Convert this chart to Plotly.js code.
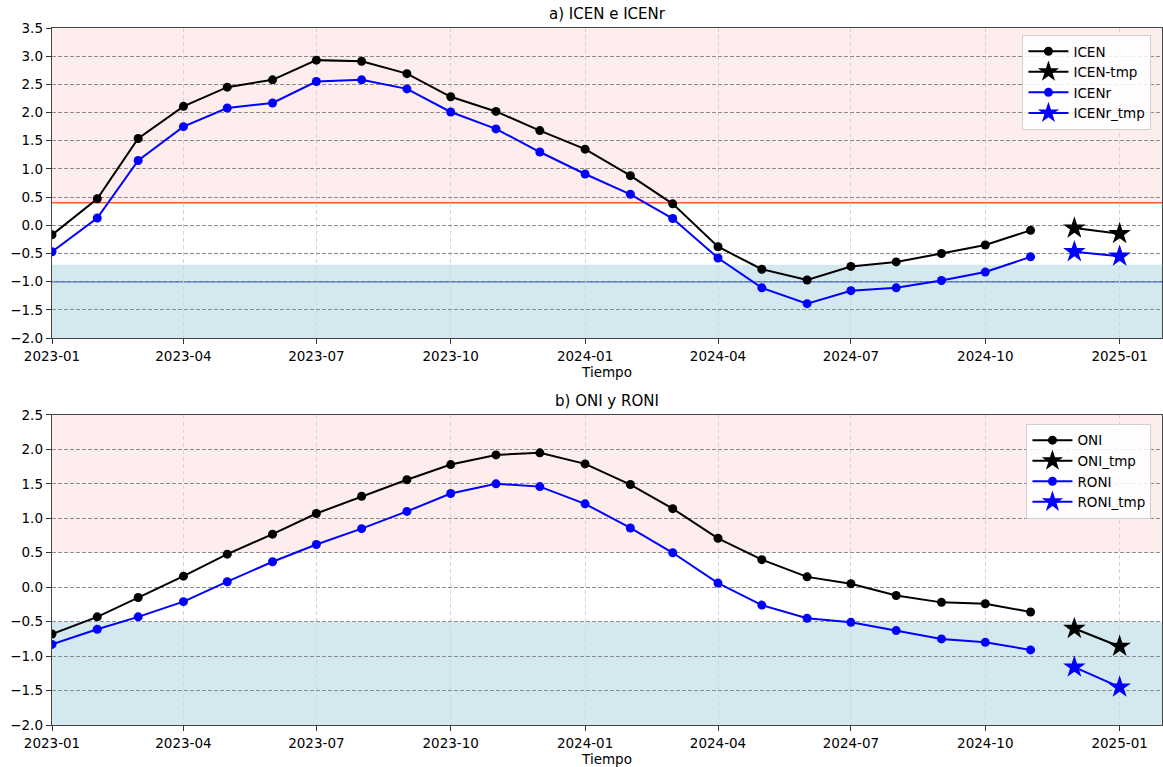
<!DOCTYPE html>
<html>
<head>
<meta charset="utf-8">
<script src="https://cdn.plot.ly/plotly-3.0.1.min.js"></script>
<style>
  html, body { margin: 0; padding: 0; background: #ffffff; }
  #chart { width: 1163px; height: 767px; }
</style>
</head>
<body>
<div id="chart"></div>
<script>
// Monthly dates of the observed indices and of the provisional (tmp) values
const months = [
  '2023-01-01','2023-02-01','2023-03-01','2023-04-01','2023-05-01','2023-06-01',
  '2023-07-01','2023-08-01','2023-09-01','2023-10-01','2023-11-01','2023-12-01',
  '2024-01-01','2024-02-01','2024-03-01','2024-04-01','2024-05-01','2024-06-01',
  '2024-07-01','2024-08-01','2024-09-01','2024-10-01','2024-11-01'
];
const tmpMonths = ['2024-12-01', '2025-01-01'];

// a) ICEN e ICENr
const icen = [-0.17, 0.47, 1.54, 2.11, 2.45, 2.58, 2.93, 2.91, 2.69, 2.28, 2.02, 1.68,
              1.35, 0.88, 0.38, -0.38, -0.78, -0.97, -0.73, -0.65, -0.50, -0.35, -0.09];
const icenTmp = [-0.05, -0.15];
const icenr = [-0.47, 0.13, 1.15, 1.75, 2.08, 2.17, 2.55, 2.58, 2.42, 2.01, 1.71, 1.30,
               0.91, 0.55, 0.12, -0.58, -1.11, -1.39, -1.16, -1.11, -0.98, -0.83, -0.56];
const icenrTmp = [-0.47, -0.55];

// b) ONI y RONI
const oni = [-0.68, -0.43, -0.15, 0.16, 0.48, 0.77, 1.07, 1.32, 1.56, 1.78, 1.92, 1.95,
             1.79, 1.49, 1.14, 0.71, 0.40, 0.15, 0.05, -0.12, -0.22, -0.24, -0.36];
const oniTmp = [-0.60, -0.86];
const roni = [-0.83, -0.61, -0.43, -0.21, 0.08, 0.37, 0.62, 0.85, 1.10, 1.36, 1.50, 1.46,
              1.21, 0.86, 0.50, 0.06, -0.26, -0.45, -0.51, -0.63, -0.75, -0.80, -0.91];
const roniTmp = [-1.16, -1.45];

// Thresholds: warm / cold shading and reference lines
const topWarm = 0.4, topCold = -0.7, topColdLine = -1.0;
const botWarm = 0.5, botCold = -0.5;
const topRange = [-2, 3.5], botRange = [-2, 2.5];
const xRange = ['2023-01-01', '2025-01-30'];

const FONT = 'DejaVu Sans, sans-serif';
const BLACK = '#000000', BLUE = '#0000ff';

function series(x, y, name, color, star, xa, ya, legend) {
  return {
    x: x, y: y, name: name, type: 'scatter', mode: 'lines+markers',
    xaxis: xa, yaxis: ya, legend: legend,
    line: { color: color, width: 2 },
    marker: star
      ? { symbol: 'star', size: 17, color: color, line: { width: 0 } }
      : { symbol: 'circle', size: 9, color: color, line: { width: 0 } }
  };
}

const data = [
  series(months, icen, 'ICEN', BLACK, false, 'x', 'y', 'legend'),
  series(tmpMonths, icenTmp, 'ICEN-tmp', BLACK, true, 'x', 'y', 'legend'),
  series(months, icenr, 'ICENr', BLUE, false, 'x', 'y', 'legend'),
  series(tmpMonths, icenrTmp, 'ICENr_tmp', BLUE, true, 'x', 'y', 'legend'),
  series(months, oni, 'ONI', BLACK, false, 'x2', 'y2', 'legend2'),
  series(tmpMonths, oniTmp, 'ONI_tmp', BLACK, true, 'x2', 'y2', 'legend2'),
  series(months, roni, 'RONI', BLUE, false, 'x2', 'y2', 'legend2'),
  series(tmpMonths, roniTmp, 'RONI_tmp', BLUE, true, 'x2', 'y2', 'legend2')
];

const PINK = '#fdeeed', CYAN = '#d3e8ef';

function band(xa, ya, y0, y1, color) {
  return { type: 'rect', xref: xa + ' domain', yref: ya, x0: 0, x1: 1, y0: y0, y1: y1,
           fillcolor: color, line: { width: 0 }, layer: 'below' };
}
function hline(xa, ya, y, color) {
  return { type: 'line', xref: xa + ' domain', yref: ya, x0: 0, x1: 1, y0: y, y1: y,
           line: { color: color, width: 1.5 }, layer: 'below' };
}

const shapes = [
  band('x', 'y', topWarm, topRange[1], PINK),
  band('x', 'y', topRange[0], topCold, CYAN),
  band('x2', 'y2', botWarm, botRange[1], PINK),
  band('x2', 'y2', botRange[0], botCold, CYAN),
  hline('x', 'y', topWarm, '#ff5a1f'),
  hline('x', 'y', topColdLine, '#3d6fe0')
];

function xAxis(anchor) {
  return {
    anchor: anchor, range: xRange, type: 'date',
    tick0: '2023-01-01', dtick: 'M3', tickformat: '%Y-%m',
    ticks: 'outside', ticklen: 5, tickwidth: 1, tickcolor: '#333',
    showline: true, linecolor: '#444', linewidth: 1.3, mirror: true,
    showgrid: true, gridcolor: '#d4d4d4', griddash: '4px,3px', gridwidth: 1,
    zeroline: false,
    tickfont: { family: FONT, size: 13.5, color: '#000' },
    title: { text: 'Tiempo', font: { family: FONT, size: 13.5, color: '#000' }, standoff: 5 }
  };
}
function yAxis(anchor, range, domain) {
  return {
    anchor: anchor, range: range, domain: domain, dtick: 0.5, tick0: 0,
    tickformat: '.1f',
    ticks: 'outside', ticklen: 5, tickwidth: 1, tickcolor: '#333',
    showline: true, linecolor: '#444', linewidth: 1.3, mirror: true,
    showgrid: true, gridcolor: '#8c8c8c', griddash: '4px,2px', gridwidth: 1,
    zeroline: false,
    tickfont: { family: FONT, size: 13.5, color: '#000' }
  };
}

function legendBox(y) {
  return {
    x: 0.9905, y: y, xanchor: 'right', yanchor: 'top',
    bgcolor: 'rgba(255,255,255,0.85)', bordercolor: '#d0d0d0', borderwidth: 1,
    font: { family: FONT, size: 13.5, color: '#000' },
    tracegroupgap: 0, itemwidth: 40
  };
}

const layout = {
  width: 1163, height: 767,
  margin: { l: 52, r: 1, t: 28, b: 42 },
  paper_bgcolor: '#ffffff', plot_bgcolor: '#ffffff',
  showlegend: true,
  xaxis: xAxis('y'),
  yaxis: yAxis('x', topRange, [0.5552, 1]),
  xaxis2: xAxis('y2'),
  yaxis2: yAxis('x2', botRange, [0, 0.4448]),
  legend: legendBox(0.99),
  legend2: legendBox(0.432),
  shapes: shapes,
  annotations: [
    { text: 'a) ICEN e ICENr', xref: 'x domain', yref: 'y domain', x: 0.5, y: 1,
      xanchor: 'center', yanchor: 'bottom', yshift: 3, showarrow: false,
      font: { family: FONT, size: 15, color: '#000' } },
    { text: 'b) ONI y RONI', xref: 'x2 domain', yref: 'y2 domain', x: 0.5, y: 1,
      xanchor: 'center', yanchor: 'bottom', yshift: 3, showarrow: false,
      font: { family: FONT, size: 15, color: '#000' } }
  ]
};

Plotly.newPlot('chart', data, layout, { displayModeBar: false, staticPlot: true });
</script>
</body>
</html>
